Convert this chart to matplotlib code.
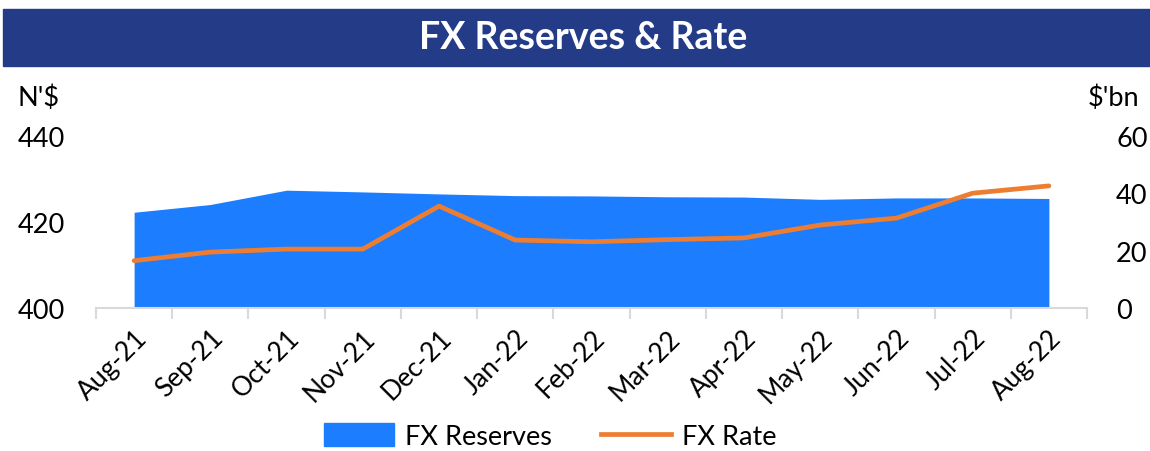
import numpy as np
import matplotlib
matplotlib.use("Agg")
import matplotlib.pyplot as plt
from matplotlib.patches import Rectangle
from matplotlib.lines import Line2D
from matplotlib.patches import Patch

# data
months = ["Aug-21", "Sep-21", "Oct-21", "Nov-21", "Dec-21", "Jan-22", "Feb-22",
          "Mar-22", "Apr-22", "May-22", "Jun-22", "Jul-22", "Aug-22"]
fx_rate = [411.0, 413.0, 413.7, 413.7, 423.7, 415.8, 415.4,
           415.9, 416.3, 419.3, 420.9, 426.7, 428.4]          # N'$ (left)
fx_reserves = [33.4, 36.1, 41.1, 40.5, 39.8, 39.2, 39.1,
               38.8, 38.7, 37.9, 38.4, 38.4, 38.2]            # $'bn (right)

plt.rcParams['font.family'] = ['Lato', 'DejaVu Sans']

BLUE = "#1C7EFF"
ORANGE = "#ED7D31"
NAVY = "#243C87"
GRID = "#D9D9D9"

fig = plt.figure(figsize=(11.5, 4.52), dpi=100)
ax = fig.add_axes([96 / 1150, 1 - 309 / 452, (1087 - 96) / 1150, (309 - 137) / 452])
ax2 = ax.twinx()

x = np.arange(len(months))

# reserves area on the right axis, rate line on the left axis (drawn on top)
ax2.fill_between(x, 0, fx_reserves, color=BLUE, linewidth=0)
ax.plot(x, fx_rate, color=ORANGE, linewidth=3.4, solid_capstyle="round")
ax.set_zorder(ax2.get_zorder() + 1)
ax.patch.set_visible(False)

ax.set_xlim(-0.5, len(months) - 0.5)
ax.set_ylim(400, 440)
ax.set_yticks([400, 420, 440])
ax2.set_ylim(0, 60)
ax2.set_yticks([0, 20, 40, 60])

for a in (ax, ax2):
    for s in a.spines.values():
        s.set_visible(False)
ax.spines["bottom"].set_visible(True)
ax.spines["bottom"].set_color(GRID)
ax.spines["bottom"].set_linewidth(1.5)

ax.set_xticks(x)
ax.set_xticklabels(months, rotation=45, ha="right", rotation_mode="anchor", fontsize=19)
ax.tick_params(axis="x", which="major", length=0, pad=12)
ax.set_xticks(np.arange(-0.5, len(months)), minor=True)
ax.tick_params(axis="x", which="minor", length=8, width=1.5, color=GRID)

ax.tick_params(axis="y", length=0, labelsize=19.5, pad=22)
ax2.tick_params(axis="y", length=0, labelsize=19.5, pad=21)

fig.text(18 / 1150, 1 - 98 / 452, "N'$", fontsize=19.5, va="center", ha="left")
fig.text(1088 / 1150, 1 - 98 / 452, "$'bn", fontsize=19.5, va="center", ha="left")

# title banner
fig.patches.append(Rectangle((3 / 1150, 1 - 67 / 452), 1, 57 / 452,
                             transform=fig.transFigure, color=NAVY, zorder=0))
fig.text(583 / 1150, 1 - 38 / 452, "FX Reserves & Rate", color="white",
         fontsize=27, fontweight="bold", ha="center", va="center")

handles = [Patch(color=BLUE, label="FX Reserves"),
           Line2D([0], [0], color=ORANGE, linewidth=3.4, label="FX Rate")]
fig.legend(handles=handles, loc="center", bbox_to_anchor=(550 / 1150, 1 - 437 / 452),
           ncol=2, frameon=False, fontsize=19.5, handlelength=2.6, handleheight=0.9,
           columnspacing=1.8, handletextpad=0.4)

fig.savefig("out.png", dpi=100)
